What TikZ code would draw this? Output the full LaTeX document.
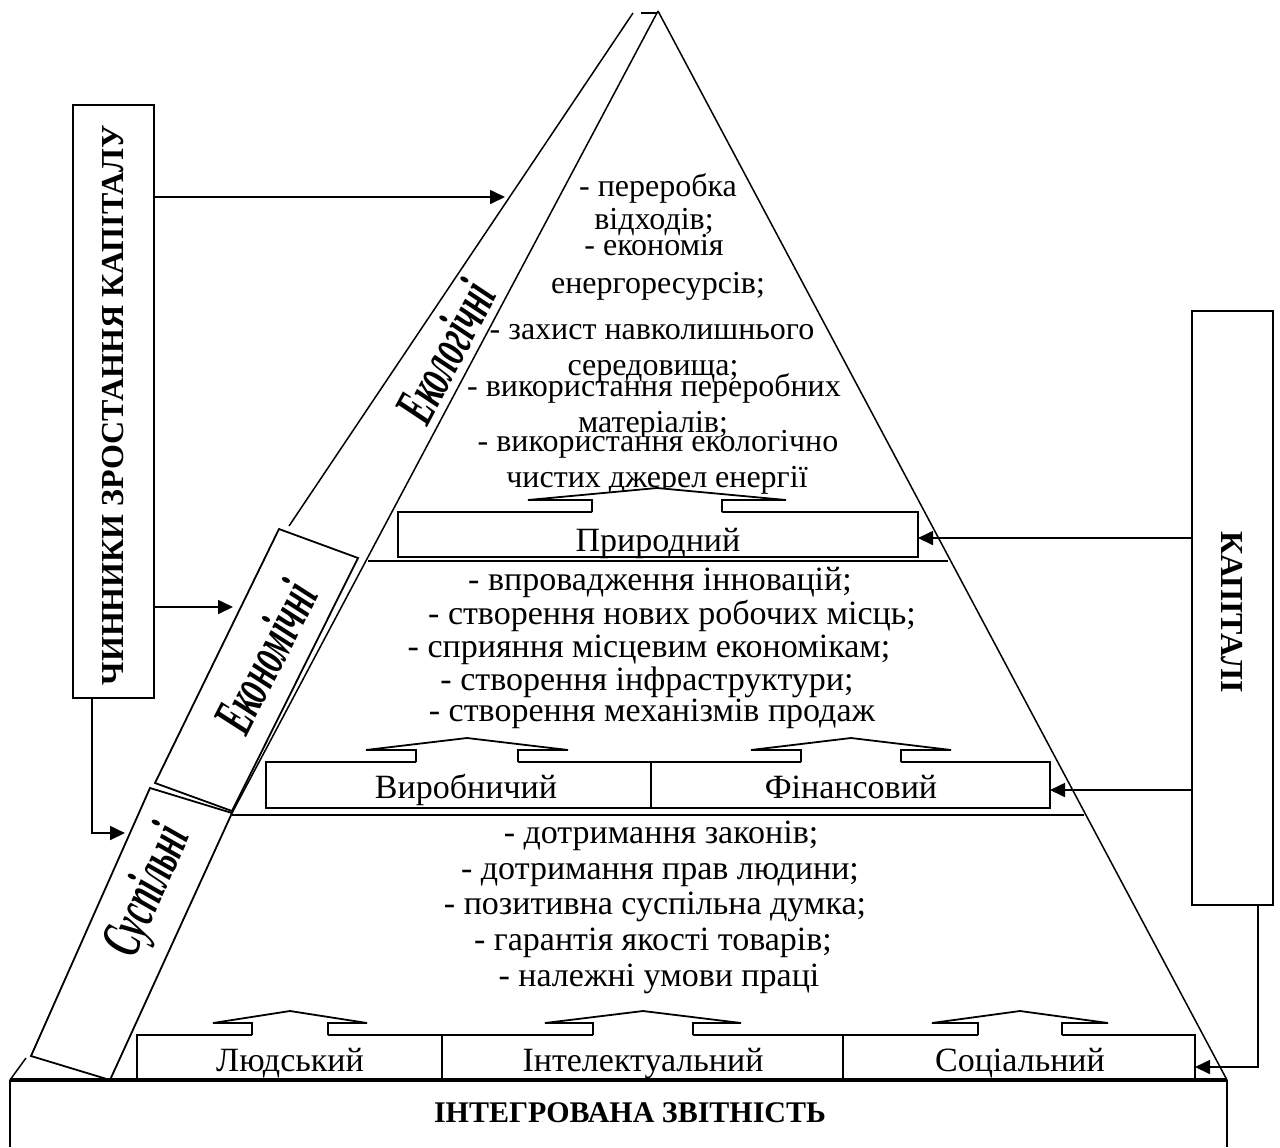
\documentclass[tikz,border=0pt]{standalone}
\usepackage{fontspec}
\setmainfont{Liberation Serif}
\usetikzlibrary{arrows.meta}
\newcommand\myuparrow[4]{% centre x, barb half width, stem half width, box top y
  \fill[white] ({#1-#3},{#4+2}) -- ({#1-#3},{#4-12}) -- ({#1-#2},{#4-12}) -- (#1,{#4-24}) -- ({#1+#2},{#4-12}) -- ({#1+#3},{#4-12}) -- ({#1+#3},{#4+2}) -- cycle;
  \draw[boxline] ({#1-#3},#4) -- ({#1-#3},{#4-12}) -- ({#1-#2},{#4-12}) -- (#1,{#4-24}) -- ({#1+#2},{#4-12}) -- ({#1+#3},{#4-12}) -- ({#1+#3},#4);
}
\begin{document}
\begin{tikzpicture}[x=0.5pt,y=-0.5pt,line width=0.75pt,
  txt/.style={font=\fontsize{17}{19}\selectfont, inner sep=0pt, fill=white, anchor=mid, text height=0.72em, text depth=0.2em, yshift=-2.5pt},
  txts/.style={txt, font=\fontsize{16}{18}\selectfont},
  lbl/.style={font=\fontsize{17}{19}\selectfont, inner sep=0pt, anchor=mid, yshift=-2.5pt},
  band/.style={font=\fontsize{29}{31}\selectfont\bfseries\itshape, inner sep=0pt},
  capt/.style={font=\fontsize{16}{18}\selectfont\bfseries, inner sep=0pt},
  sidebox/.style={draw, line width=0.9pt, minimum width=40.5pt, minimum height=296.5pt, inner sep=0pt},
  boxline/.style={line width=0.9pt},
  arr/.style={line width=0.85pt, -{Triangle[length=7.5pt,width=7pt]}}
]
\useasboundingbox (0,0) rectangle (1280,1147);

% ---------- list texts ----------
\node[txts] (t1) at (658,187) {- переробка};
\node[txts] (t2) at (654,220) {відходів;};
\node[txts] (t3) at (654,246) {- економія};
\node[txts] (t4) at (658,284) {енергоресурсів;};
\node[txts] (t5) at (652,330) {- захист навколишнього};
\node[txts] (t6) at (653,366) {середовища;};
\node[txts] (t7) at (654,387) {- використання переробних};
\node[txts] (t8) at (653,423) {матеріалів;};
\node[txts] (t9) at (658,442) {- використання екологічно};
\node[txts] (t10) at (657,478) {чистих джерел енергії};

\node[txt] (m1) at (660,581) {- впровадження інновацій;};
\node[txt] (m2) at (672,615) {- створення нових робочих місць;};
\node[txt] (m3) at (649,648) {- сприяння місцевим економікам;};
\node[txt] (m4) at (647,681) {- створення інфраструктури;};
\node[txt] (m5) at (652,712) {- створення механізмів продаж};

\node[txt] (b1) at (661,834) {- дотримання законів;};
\node[txt] (b2) at (660,870) {- дотримання прав людини;};
\node[txt] (b3) at (655,905) {- позитивна суспільна думка;};
\node[txt] (b4) at (653,941) {- гарантія якості товарів;};
\node[txt] (b5) at (659,977) {- належні умови праці};

% ---------- pyramid ----------
\draw (658,11) -- (1227,1080);
\draw (658,11) -- (232,813);
\draw (633,13) -- (289,526);
\draw (641,13) -- (657,13);
\draw (368,561) -- (948,561);
\draw (232,815) -- (1084,815);

% economic band box
\draw[boxline] (279,529) -- (358,558) -- (232,811) -- (155,783) -- cycle;
% social band box
\draw[boxline] (150,788) -- (232,813) -- (110,1080) -- (31,1056) -- cycle;
\draw (26,1058) -- (10,1080);

% base box
\draw[boxline] (10,1147) -- (10,1080);
\draw[boxline] (1227,1080) -- (1227,1147);
\node[capt, font=\fontsize{15}{18}\selectfont\bfseries] (base) at (630,1113) {ІНТЕГРОВАНА ЗВІТНІСТЬ};

% ---------- capital boxes ----------
\draw[boxline, fill=white] (398,512) rectangle (918,557);
\myuparrow{657}{129}{65}{512}
\node[lbl] (pryr) at (658,542) {Природний};

\draw[boxline, fill=white] (266,762) rectangle (1050,808);
\draw[boxline] (651,762) -- (651,808);
\myuparrow{467}{101}{51}{762}
\myuparrow{851}{100}{50}{762}
\node[lbl] (vyr) at (466,789) {Виробничий};
\node[lbl] (fin) at (851,789) {Фінансовий};

\draw[boxline, fill=white] (137,1035) rectangle (1195,1080);
\draw[boxline] (442,1035) -- (442,1080);
\draw[boxline] (843,1035) -- (843,1080);
\myuparrow{290}{77}{38}{1035}
\myuparrow{643}{98}{50}{1035}
\myuparrow{1020}{88}{42}{1035}
\node[lbl] (lud) at (290,1062) {Людський};
\node[lbl] (int) at (643,1062) {Інтелектуальний};
\node[lbl] (soc) at (1020,1062) {Соціальний};
\draw[line width=1.6pt] (10,1080) -- (1227,1080);

% ---------- band labels ----------
\node[band, rotate=62] (eko) at (445,352) {\scalebox{0.56}[1]{Екологічні}};
\node[band, rotate=63] (ekon) at (265,657) {\scalebox{0.56}[1]{Економічні}};
\node[band, rotate=66] (susp) at (150,892) {\scalebox{0.56}[1]{Суспільні}};

% ---------- side boxes ----------
\node[sidebox] (fac) at (113.5,401.5) {};
\node[capt, rotate=90] (factxt) at (113.5,405) {ЧИННИКИ ЗРОСТАННЯ КАПІТАЛУ};
\node[sidebox, minimum height=297pt] (kap) at (1232.5,608) {};
\node[capt, rotate=-90] (kaptxt) at (1232,612) {КАПІТАЛІ};

% ---------- connectors ----------
\coordinate (ekoIn) at (505,197);
\coordinate (ekonIn) at (233,607);
\coordinate (facOut) at (92,698);
\coordinate (suspIn) at (125,833);
\coordinate (pryrIn) at (918,538);
\coordinate (finIn) at (1050,790);
\coordinate (kapOut) at (1258,905);
\coordinate (socIn) at (1195,1067);

\draw[arr] (fac.east |- ekoIn) -- (ekoIn);
\draw[arr] (fac.east |- ekonIn) -- (ekonIn);
\draw[arr] (facOut) |- (suspIn);
\draw[arr] (kap.west |- pryrIn) -- (pryrIn);
\draw[arr] (kap.west |- finIn) -- (finIn);
\draw[arr] (kapOut) |- (socIn);
\end{tikzpicture}
\end{document}
